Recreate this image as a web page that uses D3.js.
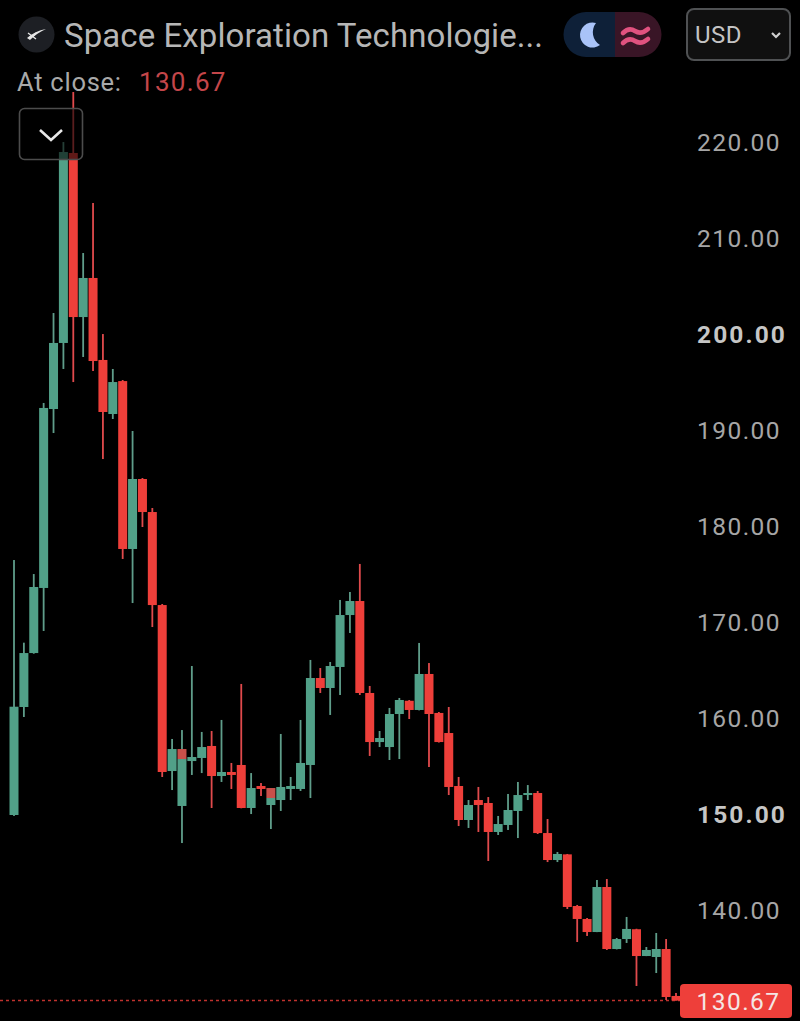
<!DOCTYPE html>
<html><head><meta charset="utf-8">
<script src="https://cdn.jsdelivr.net/npm/d3@7/dist/d3.min.js"></script>
<style>html,body{margin:0;background:#000;overflow:hidden}svg{display:block}text{font-family:Roboto,Inter,sans-serif}</style>
</head><body><svg id="c" width="800" height="1021"></svg>
<script>
const title = "Space Exploration Technologie...";
const lastClose = 130.67;
const priceTicks = [220,210,200,190,180,170,160,150,140];
const boldTicks = [200,150];
const opens = [150,161.25,166.87,173.65,192.29,199.17,218.96,201.87,205.94,197.4,191.77,195.2,177.71,185,181.56,171.87,154.58,150.94,155.62,155.94,157.19,154.06,154.48,155.21,150.73,153.02,151.04,151.56,152.71,152.71,155.21,164.27,163.23,165.42,170.83,172.29,162.71,157.6,157.08,160.52,161.9,160.94,164.69,160.63,158.54,153.02,149.48,151.56,151.25,148.23,148.96,150.42,152.19,152.29,148.12,145.31,145.9,140.52,139.17,137.81,142.5,136.04,137.08,138.1,135.31,135.21,136.04,131.15];
const highs = [176.56,167.95,175.1,192.92,202.29,220.1,225.31,208.54,213.75,200.1,196.46,195.31,190,185.1,181.98,171.98,157.92,158.85,165.52,158.65,158.75,159.9,155.42,163.65,154.37,153.33,152.81,158.44,153.96,159.9,166.15,165.31,165.94,172.4,173.23,176.15,163.44,158.75,161.15,162.19,161.98,167.92,165.83,160.73,161.25,153.96,151.56,152.92,151.87,149.9,152.19,153.44,153.12,152.5,149.58,146.15,145.94,140.63,139.27,143.23,143.33,137.19,139.38,138.15,136.25,137.71,137.08,131.46];
const lows = [149.9,160.21,166.8,169.17,189.79,196.46,195.1,197.71,196.25,187.08,191.25,176.67,172.08,180,169.58,153.96,152.6,147.08,154.17,154.37,150.73,153.44,152.71,150.7,150.1,151.98,148.54,150.42,151.56,152.5,151.77,162.71,160.42,162.5,168.96,162.5,156.15,157.08,155.73,155.83,160,160.9,155,157.55,152.08,148.85,148.65,148.23,145.21,147.92,148.44,147.6,151.56,148.02,145.1,145.1,140.21,136.77,137.4,137.8,135.94,136,136.67,132.19,135.3,133.54,130.73,130.67];
const closes = [161.28,166.87,173.75,192.4,199.17,219.06,201.87,205.94,197.29,191.98,195.1,177.71,185,181.56,171.87,154.48,156.87,155.83,156.04,157.08,154.06,154.48,154.17,150.73,152.81,152.71,151.77,152.92,153.02,155.42,164.27,163.23,165.52,170.83,172.29,162.71,157.6,158.02,160.52,161.98,160.94,164.69,160.52,157.6,152.92,149.48,151.04,151.04,148.23,149.06,150.52,152.08,152.29,148.12,145.31,145.94,140.42,139.17,137.81,142.5,136.04,137.08,138.13,135.31,135.94,136.04,131.04,130.67];
// short red bodies that sit on top of a green candle in the same slot
const overlaySlots = [17,26];
const overlayOpens = [156.87,152.81];
const overlayCloses = [155.83,151.77];

const UP="#51a088", DOWN="#ee3f3a";
const svg=d3.select("#c");
svg.append("rect").attr("width",800).attr("height",1021).attr("fill","#000");
const x=d3.scaleLinear().domain([0,67]).range([14,676]);
const y=d3.scaleLinear().domain([220,140]).range([143,911]);
const bw=9, wick=1.8;
const rows=opens.map((o,i)=>({i,o,h:highs[i],l:lows[i],c:closes[i]}));

// dotted last price line
svg.append("line").attr("x1",0).attr("x2",680).attr("y1",y(lastClose)).attr("y2",y(lastClose))
  .attr("stroke",DOWN).attr("stroke-width",1.4).attr("stroke-dasharray","3 3").attr("opacity",.8);

const g=svg.append("g");
g.selectAll(".w").data(rows).join("rect").attr("class","w")
  .attr("x",d=>x(d.i)-wick/2).attr("width",wick)
  .attr("y",d=>y(d.h)).attr("height",d=>y(d.l)-y(d.h))
  .attr("fill",d=>d.c>=d.o?"#5f9d8a":"#e04a4c");
g.selectAll(".b").data(rows).join("rect").attr("class","b")
  .attr("x",d=>x(d.i)-bw/2).attr("width",bw)
  .attr("y",d=>y(Math.max(d.o,d.c))).attr("height",d=>Math.max(2,Math.abs(y(d.o)-y(d.c))))
  .attr("fill",d=>d.c>=d.o?UP:DOWN);
g.selectAll(".ov").data(overlaySlots).join("rect").attr("class","ov")
  .attr("x",d=>x(d)-bw/2).attr("width",bw)
  .attr("y",(d,k)=>y(overlayOpens[k])).attr("height",(d,k)=>y(overlayCloses[k])-y(overlayOpens[k]))
  .attr("fill","#c9504a");

// axis
const ax=svg.append("g").attr("transform","translate(697,0)")
  .call(d3.axisRight(y).tickValues(priceTicks).tickFormat(d3.format(".2f")).tickSize(0).tickPadding(0));
ax.select(".domain").remove();
ax.selectAll("text").attr("fill",d=>boldTicks.includes(d)?"#c6c6c6":"#a6a6a6")
  .style("font-family","Roboto,sans-serif").style("font-size","24.5px")
  .style("letter-spacing",d=>boldTicks.includes(d)?"2.1px":"1.45px")
  .style("font-weight",d=>boldTicks.includes(d)?700:400);

// header
svg.append("circle").attr("cx",36.5).attr("cy",34.5).attr("r",18).attr("fill","#1d1f24");
svg.append("path").attr("d","M27 38 Q35 31 46 29 Q37 33 30 40 Z").attr("fill","#e6e6e6");
svg.append("path").attr("d","M28 33 L36 39 M36 33 L33 36").attr("stroke","#e6e6e6").attr("stroke-width",1.3).attr("fill","none");
svg.append("text").attr("x",64).attr("y",47).attr("font-size",33).attr("fill","#b6b6b6").attr("letter-spacing",.08).text(title);
svg.append("text").attr("x",17).attr("y",91).attr("font-size",25.5).attr("fill","#a9a9a9").attr("letter-spacing",.75).text("At close:");
svg.append("text").attr("x",139).attr("y",91).attr("font-size",26).attr("fill","#c4464a").attr("letter-spacing",1.3).text(d3.format(".2f")(lastClose));

// pill toggle
svg.append("path").attr("d","M615 12 H586 A22.5 22.5 0 0 0 586 57 H615 Z").attr("fill","#0e2038");
svg.append("path").attr("d","M615 12 H639 A22.5 22.5 0 0 1 639 57 H615 Z").attr("fill","#391526");
svg.append("path").attr("d","M596 23 A12.5 12.5 0 1 0 600 45 A15 15 0 0 1 596 23 Z").attr("fill","#a9c3f8");
svg.selectAll(".wv").data([32,42]).join("path").attr("class","wv").attr("fill","none")
  .attr("stroke","#e0527f").attr("stroke-width",4.6).attr("stroke-linecap","round")
  .attr("d",d=>`M623 ${d+1} Q629 ${d-5} 635 ${d-1} T648 ${d-3}`);

// currency box
svg.append("rect").attr("x",687).attr("y",9).attr("width",103).attr("height",51).attr("rx",7)
  .attr("fill","#101010").attr("stroke","#4f5153").attr("stroke-width",2);
svg.append("text").attr("x",695).attr("y",43).attr("font-size",24).attr("fill","#c4c4c4").attr("letter-spacing",.5).text("USD");
svg.append("path").attr("d","M772 33 L776 37 L780 33").attr("fill","none").attr("stroke","#d0d0d0").attr("stroke-width",2.2);

// collapse button (over candles)
svg.append("rect").attr("x",19.5).attr("y",108.5).attr("width",63).attr("height",51).attr("rx",5)
  .attr("fill","rgba(0,0,0,.6)").attr("stroke","#4c4c4c").attr("stroke-width",1.6);
svg.append("path").attr("d","M40 130 L51 140 L62 130").attr("fill","none").attr("stroke","#e8e8e8").attr("stroke-width",2.6);

// last price tag
svg.append("rect").attr("x",680).attr("y",984).attr("width",112).attr("height",34).attr("rx",4).attr("fill",DOWN);
svg.append("text").attr("x",738.5).attr("y",1010).attr("text-anchor","middle").attr("font-size",24.5).attr("letter-spacing",1.45).attr("fill","#f4e6e4").text(d3.format(".2f")(lastClose));
</script></body></html>
